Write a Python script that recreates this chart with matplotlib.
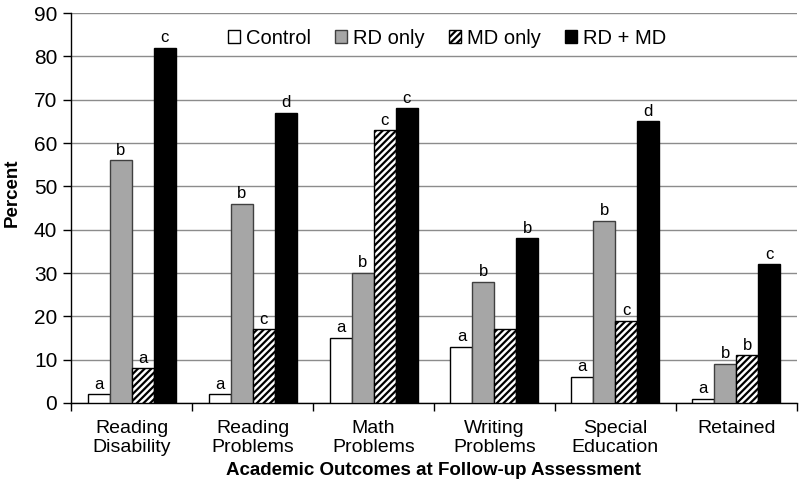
import matplotlib
matplotlib.use("Agg")
import matplotlib.pyplot as plt
import numpy as np

plt.rcParams["font.family"] = ["Liberation Sans", "DejaVu Sans"]
plt.rcParams["hatch.linewidth"] = 1.6

categorias = ["Reading\nDisability", "Reading\nProblems", "Math\nProblems",
              "Writing\nProblems", "Special\nEducation", "Retained"]
grupos = ["Control", "RD only", "MD only", "RD + MD"]

control = [2, 2, 15, 13, 6, 1]
rd_only = [56, 46, 30, 28, 42, 9]
md_only = [8, 17, 63, 17, 19, 11]
rd_md = [82, 67, 68, 38, 65, 32]

letras_control = ["a", "a", "a", "a", "a", "a"]
letras_rd = ["b", "b", "b", "b", "b", "b"]
letras_md = ["a", "c", "c", "", "c", "b"]
letras_rdmd = ["c", "d", "c", "b", "d", "c"]

series = [control, rd_only, md_only, rd_md]
letras = [letras_control, letras_rd, letras_md, letras_rdmd]
estilos = [
    dict(color="white", edgecolor="black"),
    dict(color="#a6a6a6", edgecolor="#404040"),
    dict(color="white", edgecolor="black", hatch="/////"),
    dict(color="black", edgecolor="black"),
]

fig = plt.figure(figsize=(8, 4.87), dpi=100)
ax = fig.add_axes([0.089, 0.1725, 0.907, 0.8005])

x = np.arange(len(categorias))
ancho = 0.182
for k, (valores, est, nombre) in enumerate(zip(series, estilos, grupos)):
    pos = x + (k - 1.5) * ancho
    ax.bar(pos, valores, ancho, label=nombre, linewidth=1.0, zorder=3, **est)
    for xi, v, t in zip(pos, valores, letras[k]):
        if t:
            ax.text(xi, v + 0.6, t, ha="center", va="bottom", fontsize=12,
                    zorder=4)

ax.set_xlim(-0.5, len(categorias) - 0.5)
ax.set_ylim(0, 90)
ax.set_yticks(range(0, 91, 10))
ax.tick_params(axis="y", labelsize=15, length=6, width=1, pad=4)
ax.set_xticks(x)
ax.set_xticklabels(categorias, fontsize=14, linespacing=1.2)
ax.tick_params(axis="x", length=0, pad=12)
ax.set_xticks(np.arange(len(categorias) + 1) - 0.5, minor=True)
ax.tick_params(axis="x", which="minor", length=6, width=1)

ax.yaxis.grid(True, color="#8c8c8c", linewidth=1)
ax.set_axisbelow(True)
for lado in ["top", "right"]:
    ax.spines[lado].set_visible(False)
ax.spines["left"].set_linewidth(1)
ax.spines["bottom"].set_linewidth(1)

ax.set_ylabel("Percent", fontsize=13.5, fontweight="bold")
ax.yaxis.set_label_coords(-0.07, 0.54)
ax.set_xlabel("Academic Outcomes at Follow-up Assessment", fontsize=13.5,
              fontweight="bold", labelpad=4)

ax.legend(loc="center", bbox_to_anchor=(0.518, 0.936), ncol=4, frameon=False,
          fontsize=14.5, handlelength=0.6, handleheight=0.6, handletextpad=0.3,
          columnspacing=1.2, borderaxespad=0)

fig.savefig("out.png", dpi=100)
